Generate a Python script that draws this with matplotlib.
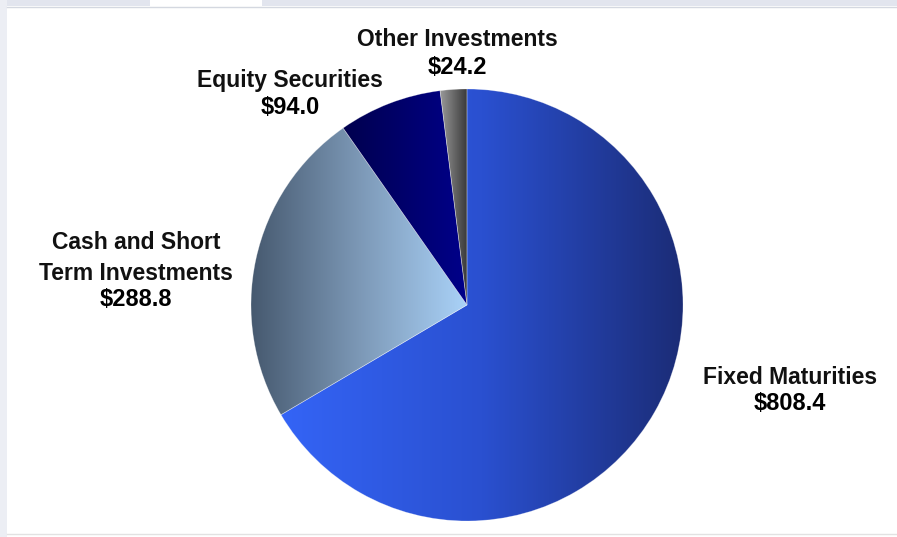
import numpy as np
import matplotlib
matplotlib.use("Agg")
import matplotlib.pyplot as plt
from matplotlib.colors import LinearSegmentedColormap
from matplotlib.patches import Rectangle

# Investment portfolio composition ($ millions)
categories = ["Fixed Maturities", "Cash and Short\nTerm Investments",
              "Equity Securities", "Other Investments"]
values = [808.4, 288.8, 94.0, 24.2]

# Horizontal gradient (left -> right) for each slice
slice_gradients = [
    ["#3464f6", "#2a50d0", "#1b2c76"],
    ["#46596f", "#7c98b6", "#aad2f8"],
    ["#00004e", "#00006c", "#00008a"],
    ["#9a9a9a", "#6a6a6a", "#3a3a3a"],
]

# Label anchor points in pixel coordinates (x, y from top)
label_pos = [(790, 377), (136, 258), (290, 80), (457, 40)]

W, H = 897, 537
fig = plt.figure(figsize=(W / 100, H / 100), dpi=100)
fig.patch.set_facecolor("white")
ax = fig.add_axes([0, 0, 1, 1])
ax.set_axis_off()

# page frame around the chart panel
ax.add_patch(Rectangle((0, H - 6), W, 6, facecolor="#e2e5ee", edgecolor="none", zorder=0))
ax.add_patch(Rectangle((150, H - 6), 112, 6, facecolor="white", edgecolor="none", zorder=0.5))
ax.add_patch(Rectangle((0, 0), 7, H, facecolor="#eceef4", edgecolor="none", zorder=0))
ax.plot([7, W], [H - 6.5, H - 6.5], color="#d4d8e0", lw=1, zorder=1)
ax.plot([7, W], [3.5, 3.5], color="#e2e2e2", lw=1, zorder=1)

cx, cy, r = 467, H - 305, 216
wedges, _ = ax.pie(values, center=(cx, cy), radius=r, startangle=90,
                   counterclock=False,
                   wedgeprops=dict(facecolor="none", edgecolor=(1, 1, 1, 0.35),
                                   linewidth=0.5, zorder=3))

for w, cols in zip(wedges, slice_gradients):
    ext = w.get_path().get_extents(w.get_patch_transform())
    cmap = LinearSegmentedColormap.from_list("g", cols)
    grad = np.linspace(0, 1, 256)[None, :]
    im = ax.imshow(grad, cmap=cmap, aspect="auto", origin="lower",
                   extent=[ext.x0, ext.x1, ext.y0, ext.y1], zorder=2,
                   interpolation="bilinear")
    im.set_clip_path(w)

name_font = dict(family=["Liberation Sans", "DejaVu Sans"], fontweight="bold",
                 fontsize=16.5, color="#111111")
value_font = dict(family=["Liberation Sans", "DejaVu Sans"], fontweight="bold",
                  fontsize=17, color="#000000")

for name, val, (px, py) in zip(categories, values, label_pos):
    nlines = name.count("\n") + 1
    ax.text(px, H - py, name, ha="center", va="center", linespacing=1.4,
            **name_font)
    ax.text(px, H - (py + 15 * nlines + 12), f"${val:.1f}", ha="center",
            va="center", **value_font)

ax.set_xlim(0, W)
ax.set_ylim(0, H)
ax.set_aspect("equal")
fig.savefig("out.png", dpi=100, facecolor=fig.get_facecolor())
